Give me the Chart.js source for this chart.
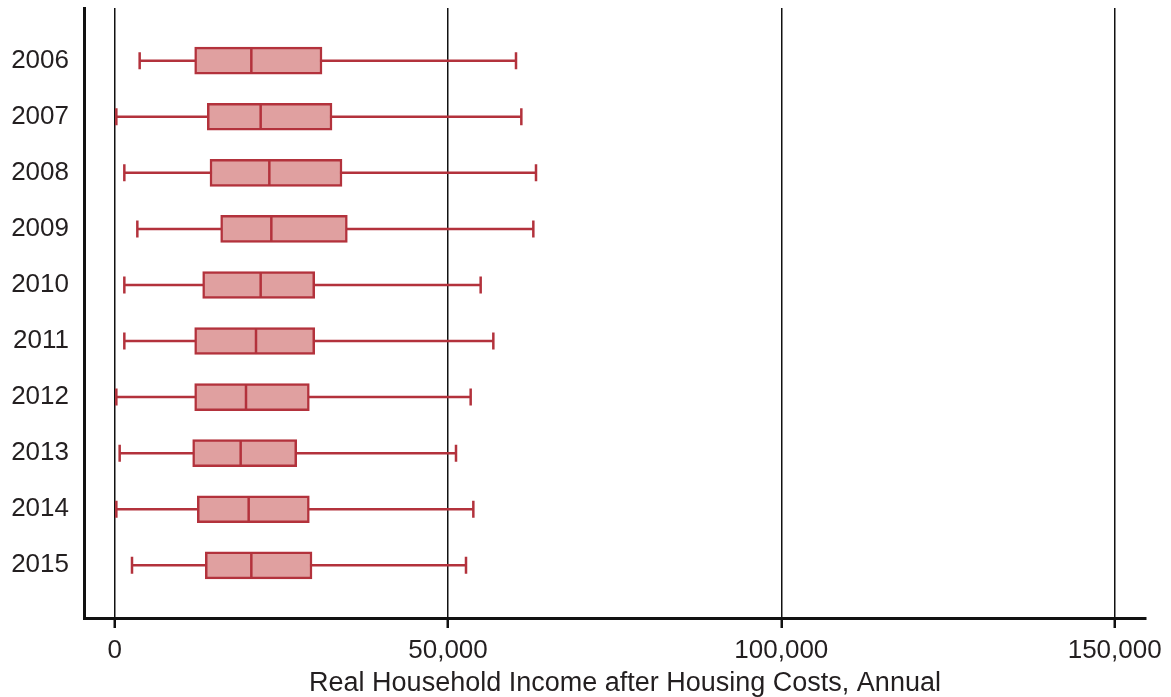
<!DOCTYPE html>
<html>
<head>
<meta charset="utf-8">
<script src="https://cdn.jsdelivr.net/npm/chart.js@4"></script>
<style>
  html, body { margin: 0; padding: 0; background: #fff; }
</style>
</head>
<body>
<canvas id="income-chart" width="1171" height="697"></canvas>
<script>
const years = ['2006', '2007', '2008', '2009', '2010', '2011', '2012', '2013', '2014', '2015'];
const whiskerLow = [3750, 250, 1450, 3400, 1450, 1450, 250, 750, 250, 2600];
const q1 = [12000, 13900, 14300, 15900, 13200, 12000, 12000, 11700, 12400, 13600];
const median = [20500, 21900, 23200, 23500, 21900, 21200, 19700, 18900, 20100, 20500];
const q3 = [31100, 32600, 34100, 34900, 30000, 30000, 29200, 27300, 29200, 29600];
const whiskerHigh = [60200, 61000, 63200, 62800, 54900, 56800, 53400, 51200, 53800, 52700];
const xTicks = [0, 50000, 100000, 150000];
const xTitle = 'Real Household Income after Housing Costs, Annual';

const boxLine = '#b3323c';
const boxFill = '#e0a0a0';
const textColor = '#231f20';
const fontFamily = '"Liberation Sans", Arial, Helvetica, sans-serif';

// whiskers go under the boxes, medians on top
const boxPlotPlugin = {
    id: 'boxplot',
    beforeDatasetsDraw(chart) {
        const { ctx, scales: { x, y } } = chart;
        ctx.save();
        ctx.strokeStyle = boxLine;
        ctx.lineWidth = 2.5;
        years.forEach((yr, i) => {
            const py = y.getPixelForValue(i);
            const lo = x.getPixelForValue(whiskerLow[i]);
            const hi = x.getPixelForValue(whiskerHigh[i]);
            ctx.beginPath();
            ctx.moveTo(lo, py);
            ctx.lineTo(hi, py);
            ctx.moveTo(lo, py - 8.5);
            ctx.lineTo(lo, py + 8.5);
            ctx.moveTo(hi, py - 8.5);
            ctx.lineTo(hi, py + 8.5);
            ctx.stroke();
        });
        ctx.restore();
    },
    afterDatasetsDraw(chart) {
        const { ctx, scales: { x, y } } = chart;
        ctx.save();
        ctx.strokeStyle = boxLine;
        ctx.lineWidth = 2.5;
        years.forEach((yr, i) => {
            const py = y.getPixelForValue(i);
            const pm = x.getPixelForValue(median[i]);
            ctx.beginPath();
            ctx.moveTo(pm, py - 13);
            ctx.lineTo(pm, py + 13);
            ctx.stroke();
        });
        ctx.restore();
    },
    // axis title sits a little right of the plot centre in the original
    afterDraw(chart) {
        const { ctx, chartArea } = chart;
        ctx.save();
        ctx.fillStyle = textColor;
        ctx.font = '27px ' + fontFamily;
        ctx.textAlign = 'center';
        ctx.textBaseline = 'alphabetic';
        ctx.fillText(xTitle, (chartArea.left + chartArea.right) / 2 + 10, 691);
        ctx.restore();
    }
};

const ctx = document.getElementById('income-chart').getContext('2d');

const incomeChart = new Chart(ctx, {
    type: 'bar',
    data: {
        datasets: [{
            label: 'Interquartile range',
            data: years.map((yr, i) => ({ x: [q1[i], q3[i]], y: i })),
            backgroundColor: boxFill,
            borderColor: boxLine,
            borderWidth: 2.5,
            borderSkipped: false,
            barThickness: 27
        }]
    },
    options: {
        indexAxis: 'y',
        responsive: false,
        animation: false,
        layout: { padding: { top: 8, right: 25, left: 0, bottom: 0 } },
        plugins: {
            legend: { display: false },
            tooltip: { enabled: false }
        },
        scales: {
            x: {
                type: 'linear',
                min: -4600,
                max: 154700,
                afterBuildTicks: (scale) => {
                    scale.ticks = xTicks.map(v => ({ value: v }));
                },
                afterFit: (scale) => {
                    scale.height = 79;
                    scale.paddingLeft = 0;
                    scale.paddingRight = 0;
                },
                grid: {
                    color: '#111',
                    lineWidth: 1.5,
                    drawTicks: true,
                    tickLength: 10,
                    tickColor: '#111',
                    tickWidth: 2.5
                },
                border: { display: true, color: '#111', width: 3 },
                ticks: {
                    color: textColor,
                    padding: 7,
                    maxRotation: 0,
                    font: { family: fontFamily, size: 26 },
                    callback: (v) => Number(v).toLocaleString('en-US')
                },
                title: { display: false }
            },
            y: {
                type: 'linear',
                reverse: true,
                offset: false,
                min: -0.94,
                max: 9.94,
                afterBuildTicks: (scale) => {
                    scale.ticks = years.map((yr, i) => ({ value: i }));
                },
                afterFit: (scale) => {
                    scale.width = 84;
                    scale.paddingTop = 0;
                    scale.paddingBottom = 0;
                },
                grid: { display: false, drawTicks: false },
                border: { display: true, color: '#111', width: 3 },
                ticks: {
                    color: textColor,
                    padding: 15,
                    font: { family: fontFamily, size: 26 },
                    callback: (v) => years[v]
                }
            }
        }
    },
    plugins: [boxPlotPlugin]
});
</script>
</body>
</html>
